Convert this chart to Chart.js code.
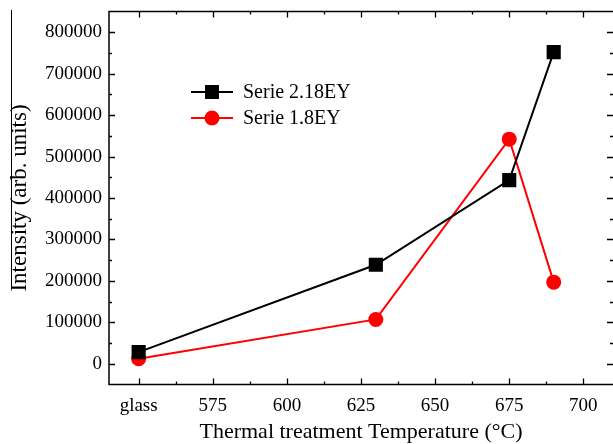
<!DOCTYPE html>
<html>
<head>
<meta charset="utf-8">
<script src="https://cdn.jsdelivr.net/npm/chart.js@4/dist/chart.umd.min.js"></script>
<style>
html,body{margin:0;padding:0;background:#fff;}
#wrap{width:613px;height:444px;position:relative;}
</style>
</head>
<body>
<div id="wrap"><canvas id="c" width="613" height="444"></canvas></div>
<script>
// ---- data ----
const temps = [550, 630, 675, 690];           // 550 == "glass"
const serie218 = [28000, 239000, 443000, 752000];
const serie18 = [12000, 107000, 542000, 197000];
const seriesNames = ['Serie 2.18EY', 'Serie 1.8EY'];
const xTickValues = [550, 575, 600, 625, 650, 675, 700];
const xTickLabels = ['glass', '575', '600', '625', '650', '675', '700'];
const yTickValues = [0, 100000, 200000, 300000, 400000, 500000, 600000, 700000, 800000];
const xTitle = 'Thermal treatment Temperature (\u00B0C)';
const yTitle = 'Intensity (arb. units)';

const FONT = "'Liberation Serif', 'Times New Roman', serif";

const toPts = (xs, ys) => xs.map((x, i) => ({x: x, y: ys[i]}));

const framePlugin = {
  id: 'frame',
  afterDraw(chart) {
    const ctx = chart.ctx;
    const a = chart.chartArea;
    const xs = chart.scales.x, ys = chart.scales.y;
    ctx.save();
    ctx.strokeStyle = '#000';
    ctx.lineWidth = 1.5;
    // frame: the right edge of the reference is cropped away, so draw left, top, bottom
    ctx.beginPath();
    ctx.moveTo(chart.width, a.top); ctx.lineTo(a.left, a.top);
    ctx.lineTo(a.left, a.bottom); ctx.lineTo(chart.width, a.bottom);
    ctx.stroke();
    const MAJ = 6, MIN = 3;
    ctx.lineWidth = 1.3;
    ctx.beginPath();
    // x ticks (major + minor) inward on bottom and top
    xTickValues.forEach(v => {
      [[v, MAJ], [v + 12.5, MIN]].forEach(([val, len]) => {
        if (val < xs.min || val > xs.max) return;
        const px = Math.round(xs.getPixelForValue(val)) + 0.5;
        ctx.moveTo(px, a.bottom); ctx.lineTo(px, a.bottom - len);
        ctx.moveTo(px, a.top); ctx.lineTo(px, a.top + len);
      });
    });
    // y ticks inward on left and right
    yTickValues.forEach(v => {
      [[v, MAJ], [v + 50000, MIN], [v - 50000, MIN]].forEach(([val, len]) => {
        if (val <= ys.min || val >= ys.max) return;
        const py = Math.round(ys.getPixelForValue(val)) + 0.5;
        ctx.moveTo(a.left, py); ctx.lineTo(a.left + len, py);
        ctx.moveTo(chart.width, py); ctx.lineTo(chart.width - len, py);
      });
    });
    ctx.stroke();

    // legend inside plot
    const ds = chart.data.datasets;
    const lx0 = 191, lx1 = 233, tx = 243;
    const rows = [92, 118];
    ds.forEach((d, i) => {
      const y = rows[i];
      ctx.strokeStyle = d.borderColor;
      ctx.lineWidth = 2;
      ctx.beginPath(); ctx.moveTo(lx0, y); ctx.lineTo(lx1, y); ctx.stroke();
      ctx.fillStyle = d.pointBackgroundColor;
      const cx = (lx0 + lx1) / 2;
      if (d.pointStyle === 'rect') {
        ctx.fillRect(cx - 7, y - 7, 14, 14);
      } else {
        ctx.beginPath(); ctx.arc(cx, y, 7.5, 0, Math.PI * 2); ctx.fill();
      }
      ctx.fillStyle = '#000';
      ctx.font = "20px " + FONT;
      ctx.textBaseline = 'middle';
      ctx.textAlign = 'left';
      ctx.fillText(d.label, tx, y + 1);
    });

    // stray vertical line next to the y title (as in the reference image)
    ctx.strokeStyle = '#000';
    ctx.lineWidth = 1;
    ctx.beginPath(); ctx.moveTo(11.5, 10); ctx.lineTo(11.5, 288); ctx.stroke();
    ctx.restore();
  }
};

const zeroPad = (s) => { s.paddingLeft = 0; s.paddingRight = 0; s.paddingTop = 0; s.paddingBottom = 0; };

new Chart(document.getElementById('c'), {
  type: 'line',
  data: {
    datasets: [
      {
        label: seriesNames[0],
        data: toPts(temps, serie218),
        borderColor: '#000000',
        backgroundColor: '#000000',
        pointBackgroundColor: '#000000',
        pointBorderColor: '#000000',
        pointStyle: 'rect',
        pointRadius: 10,
        pointBorderWidth: 0,
        borderWidth: 2,
        tension: 0
      },
      {
        label: seriesNames[1],
        data: toPts(temps, serie18),
        borderColor: '#ff0000',
        backgroundColor: '#ff0000',
        pointBackgroundColor: '#ff0000',
        pointBorderColor: '#ff0000',
        pointStyle: 'circle',
        pointRadius: 7.5,
        pointBorderWidth: 0,
        borderWidth: 2,
        tension: 0
      }
    ]
  },
  options: {
    responsive: false,
    animation: false,
    devicePixelRatio: 1,
    layout: {autoPadding: false, padding: {top: 11.5, right: 0, left: 0, bottom: 0}},
    plugins: {legend: {display: false}, tooltip: {enabled: false}},
    scales: {
      x: {
        type: 'linear',
        min: 540, max: 710,
        afterFit(s) { s.height = 59.5; zeroPad(s); },
        afterBuildTicks(s) { s.ticks = xTickValues.map(v => ({value: v})); },
        grid: {display: false, drawTicks: false},
        border: {display: false},
        ticks: {
          padding: 10,
          color: '#000',
          font: {family: FONT, size: 19},
          maxRotation: 0,
          autoSkip: false,
          callback: (v) => { const i = xTickValues.indexOf(v); return i >= 0 ? xTickLabels[i] : ''; }
        },
        title: {display: true, text: xTitle, color: '#000', font: {family: FONT, size: 22, lineHeight: 1.1}, padding: {top: 0, bottom: 0}}
      },
      y: {
        type: 'linear',
        min: -50000, max: 850000,
        afterFit(s) { s.width = 109; zeroPad(s); },
        afterBuildTicks(s) { s.ticks = yTickValues.map(v => ({value: v})); },
        grid: {display: false, drawTicks: false},
        border: {display: false},
        ticks: {
          padding: 7,
          color: '#000',
          font: {family: FONT, size: 19},
          autoSkip: false,
          callback: (v) => String(v)
        },
        title: {display: true, text: yTitle, color: '#000', font: {family: FONT, size: 23, lineHeight: 1.2}, padding: {top: 6, bottom: 0}}
      }
    }
  },
  plugins: [framePlugin]
});
</script>
</body>
</html>
